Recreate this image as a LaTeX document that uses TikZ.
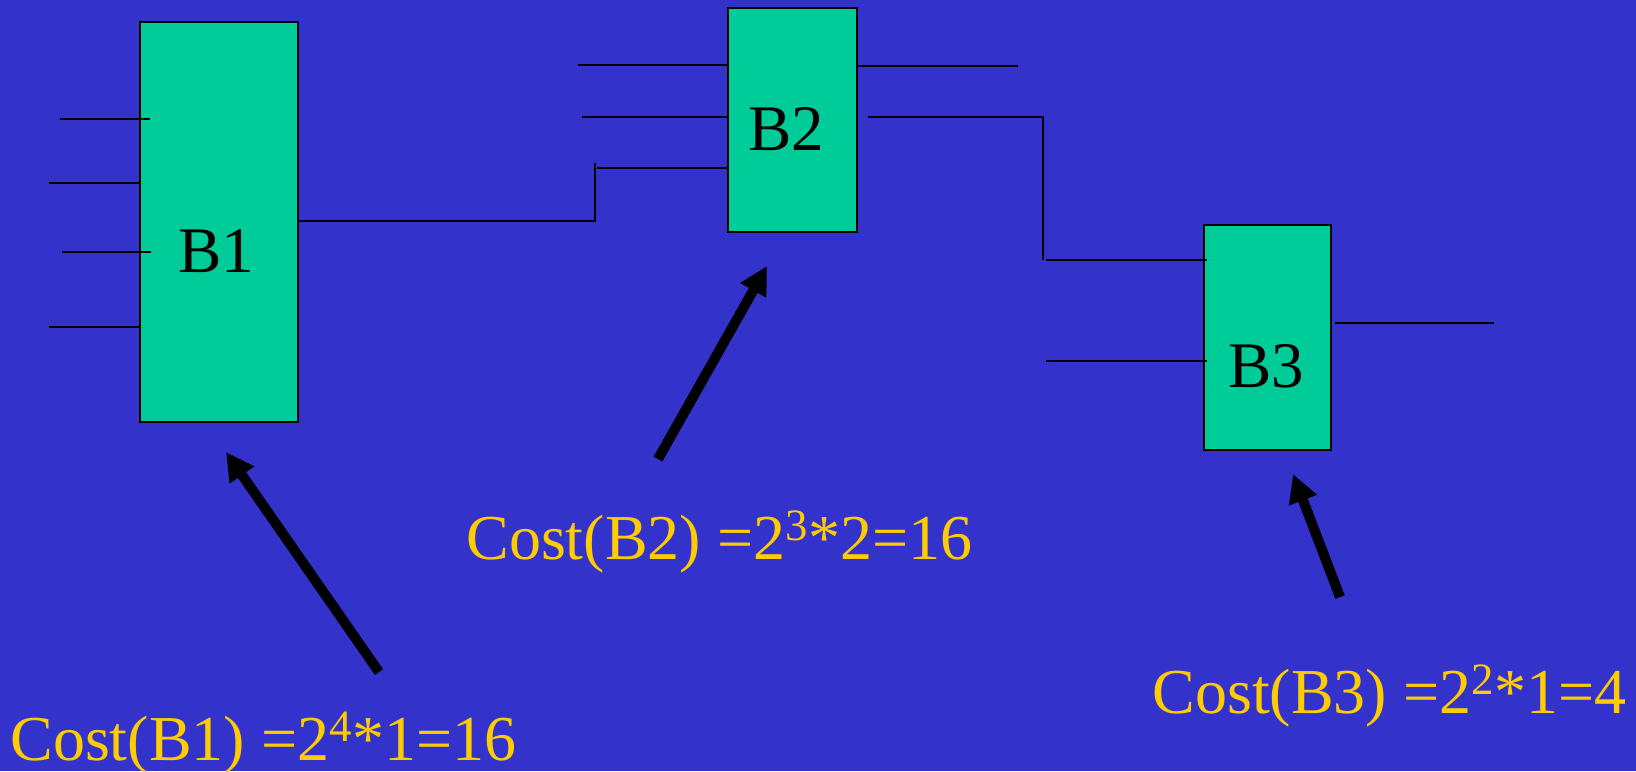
\documentclass[tikz,border=0pt]{standalone}
\usepackage{fontspec}
\setmainfont{Liberation Serif}
\usepackage{xcolor}
\usetikzlibrary{arrows.meta}

\definecolor{slideblue}{RGB}{51,51,204}
\definecolor{blockgreen}{RGB}{0,204,153}
\definecolor{costyellow}{RGB}{255,204,0}

\begin{document}
\begin{tikzpicture}[
    x=0.5pt, y=-0.5pt,
    block/.style={rectangle, draw, line width=1pt, fill=blockgreen, inner sep=0pt, anchor=north west},
    blocklabel/.style={anchor=base, inner sep=0pt, font=\fontsize{32.5}{40}\selectfont},
    cost/.style={anchor=base west, inner sep=0pt, text=costyellow, font=\fontsize{32}{40}\selectfont},
    wire/.style={line width=1pt},
    pointer/.style={-{Triangle[length=14pt, width=14pt]}, line width=5pt}
]

% background
\fill[slideblue] (0,0) rectangle (1636,771);
\useasboundingbox (0,0) rectangle (1636,771);

% blocks
\node[block, minimum width=79pt, minimum height=200pt] (b1) at (139,21) {};
\node[block, minimum width=64.5pt, minimum height=112pt] (b2) at (727,7) {};
\node[block, minimum width=63.5pt, minimum height=112.5pt] (b3) at (1203,224) {};

\node[blocklabel] (b1name) at (216,272) {B1};
\node[blocklabel] (b2name) at (786,150) {B2};
\node[blocklabel] (b3name) at (1266,387) {B3};

% inputs of B1
\coordinate (b1in1) at (60,119);
\coordinate (b1in2) at (49,183);
\coordinate (b1in3) at (62,252);
\coordinate (b1in4) at (49,327);
\draw[wire] (b1in1) -- ([xshift=5.5pt]b1.west |- b1in1);
\draw[wire] (b1in2) -- (b1.west |- b1in2);
\draw[wire] (b1in3) -- ([xshift=6pt]b1.west |- b1in3);
\draw[wire] (b1in4) -- (b1.west |- b1in4);

% B1 -> B2
\coordinate (bend12) at (595,163);
\coordinate (b2in3) at (597,168);
\draw[wire] (b1.east |- 0,221) -| (bend12);
\draw[wire] (b2in3) -- (b2.west |- b2in3);

% other inputs of B2
\coordinate (b2in1) at (578,65);
\coordinate (b2in2) at (582,117);
\draw[wire] (b2in1) -- (b2.west |- b2in1);
\draw[wire] (b2in2) -- (b2.west |- b2in2);

% outputs of B2
\coordinate (b2out1) at (1018,66);
\coordinate (bend23) at (1043,260);
\draw[wire] (b2.east |- b2out1) -- (b2out1);
\draw[wire] ([xshift=5pt]b2.east |- 0,117) -| (bend23);

% inputs of B3
\coordinate (b3in1) at (1046,260);
\coordinate (b3in2) at (1046,361);
\draw[wire] (b3in1) -- ([xshift=2pt]b3.west |- b3in1);
\draw[wire] (b3in2) -- ([xshift=2pt]b3.west |- b3in2);

% output of B3
\coordinate (b3out) at (1494,323);
\draw[wire] ([xshift=1.5pt]b3.east |- b3out) -- (b3out);

% costs
\node[cost] (cost1) at (10,760) {Cost(B1) =2\textsuperscript{4}*1=16};
\node[cost] (cost2) at (466,559) {Cost(B2) =2\textsuperscript{3}*2=16};
\node[cost] (cost3) at (1152,713) {Cost(B3) =2\textsuperscript{2}*1=4};

\coordinate (tail1) at (379,672);
\coordinate (tip1) at (226,452);
\coordinate (tail2) at (658,459);
\coordinate (tip2) at (767,266);
\coordinate (tail3) at (1340,597);
\coordinate (tip3) at (1293,474);
\draw[pointer] (tail1) -- (tip1);
\draw[pointer] (tail2) -- (tip2);
\draw[pointer] (tail3) -- (tip3);

\end{tikzpicture}
\end{document}
